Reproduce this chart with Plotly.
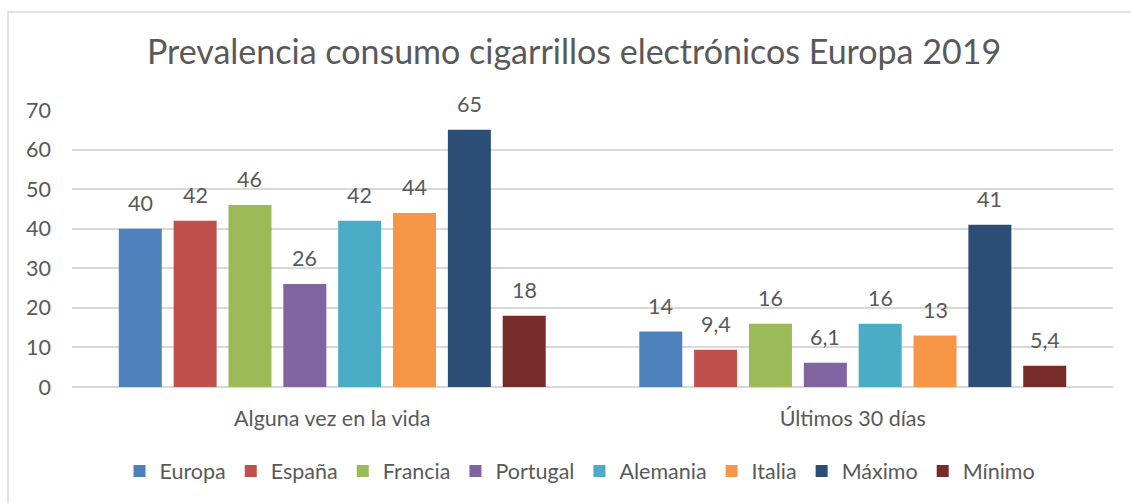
import plotly.graph_objects as go

# Prevalence of e-cigarette use, Europe 2019 (%)
categories = ["Alguna vez en la vida", "Últimos 30 días"]
series_names = ["Europa", "España", "Francia", "Portugal", "Alemania", "Italia", "Máximo", "Mínimo"]
europa = [40, 14]
espana = [42, 9.4]
francia = [46, 16]
portugal = [26, 6.1]
alemania = [42, 16]
italia = [44, 13]
maximo = [65, 41]
minimo = [18, 5.4]
y_ticks = [0, 10, 20, 30, 40, 50, 60, 70]

series_values = [europa, espana, francia, portugal, alemania, italia, maximo, minimo]
colors = ["#4F81BD", "#C0504D", "#9BBB59", "#8064A2", "#4BACC6", "#F79646", "#2C4D75", "#772C2A"]

FONT = "Lato"
TEXT = "#595959"
GRID = "#D9D9D9"
BARGAP = 0.157
GROUPGAP = 0.216
FS = 21.5

fig = go.Figure()
for name, vals, col in zip(series_names, series_values, colors):
    fig.add_trace(go.Bar(name=name, x=categories, y=vals, marker_color=col,
                         marker_line_width=0))

# value labels above each bar, placed at the bar's slot centre
n = len(series_names)
annotations = []
for i, vals in enumerate(series_values):
    for ci, v in enumerate(vals):
        xpos = ci - (1 - BARGAP) / 2 + (i + 0.5) * (1 - BARGAP) / n
        annotations.append(dict(
            x=xpos, y=v, xref="x", yref="y", text=f"{v:g}".replace(".", ","),
            showarrow=False, yanchor="bottom", yshift=11,
            font=dict(family=FONT, size=FS, color=TEXT)))

fig.update_layout(
    width=1131, height=503,
    margin=dict(l=72, r=18, t=110, b=116),
    paper_bgcolor="white", plot_bgcolor="white",
    barmode="group", bargap=BARGAP, bargroupgap=GROUPGAP,
    separators=",.",
    font=dict(family=FONT, size=FS, color=TEXT),
    title=dict(text="Prevalencia consumo cigarrillos electrónicos Europa 2019",
               x=574 / 1131, xanchor="center", xref="container",
               y=1 - 52 / 503, yanchor="middle", yref="container",
               font=dict(family=FONT, size=34, color=TEXT)),
    legend=dict(orientation="h", x=580 / 1131, xanchor="center", xref="container",
                y=1 - 471 / 503, yanchor="middle", yref="container",
                font=dict(family=FONT, size=FS, color=TEXT),
                itemwidth=30, traceorder="normal"),
    annotations=annotations,
    shapes=[dict(type="rect", xref="paper", yref="paper",
                 x0=(8 - 72) / 1041, x1=(1140 - 72) / 1041,
                 y0=(387 - 520) / 277, y1=(387 - 12) / 277,
                 line=dict(color=GRID, width=1.5), layer="below")],
)
fig.update_xaxes(type="category", showgrid=False, showline=False, ticks="",
                 ticklabelstandoff=16, tickfont=dict(family=FONT, size=FS, color=TEXT))
fig.update_yaxes(range=[0, 70], tickvals=y_ticks, showgrid=True, gridcolor=GRID,
                 gridwidth=1.5, zeroline=True, zerolinecolor=GRID, zerolinewidth=1.5,
                 showline=False, ticks="", ticklabelstandoff=20,
                 tickfont=dict(family=FONT, size=FS, color=TEXT))

fig.write_html("out.html")
